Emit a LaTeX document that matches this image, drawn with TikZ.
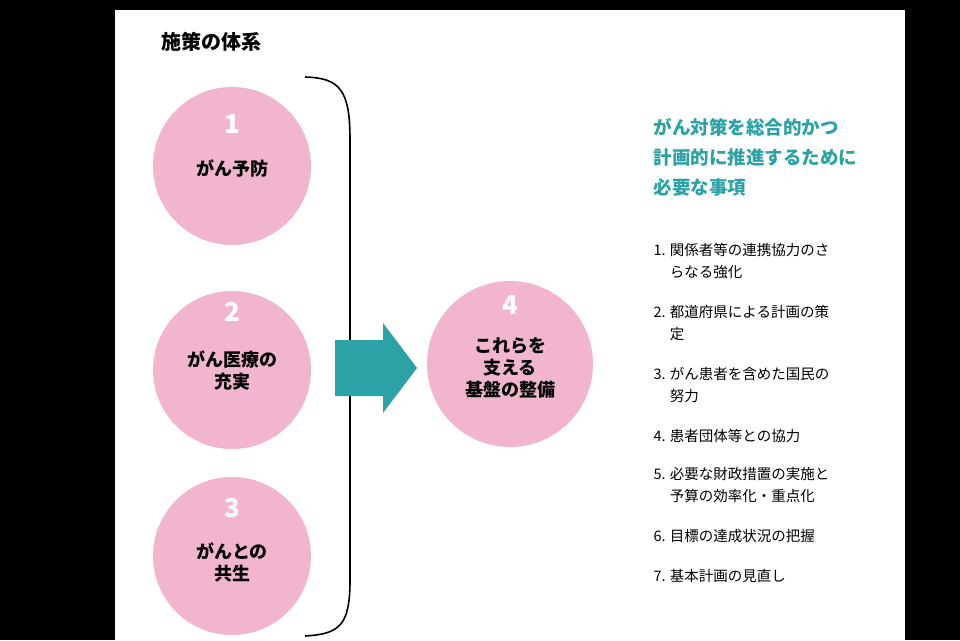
\documentclass[tikz,border=0pt]{standalone}
\usepackage{fontspec}
\setmainfont{Noto Sans CJK JP}
\definecolor{pinkc}{HTML}{F2B5CF}
\definecolor{tealc}{HTML}{2BA3A6}
\tikzset{circ/.style={circle,fill=pinkc,minimum size=158pt,inner sep=0pt},
 num/.style={text=white,font=\fontsize{26}{26}\selectfont\bfseries},
 ctext/.style={font=\fontsize{18}{22}\selectfont\bfseries,align=center},
 item/.style={anchor=north west,font=\fontsize{14.5}{22}\selectfont,align=left}}
\begin{document}
\begin{tikzpicture}[x=1pt,y=-1pt]
\fill[black] (0,0) rectangle (960,640);
\fill[white] (115,10) rectangle (905,640);
\useasboundingbox (0,0) rectangle (960,640);
\node[anchor=west,font=\fontsize{20}{20}\selectfont\bfseries] (title) at (158,42) {施策の体系};
\begin{scope}
\clip (115,10) rectangle (905,640);
\node[circ] (c1) at (232,166) {};
\node[circ] (c2) at (232,370) {};
\node[circ] (c3) at (232,556) {};
\end{scope}
\node[num] at (232,124) {1};
\node[ctext] at (232,168) {がん予防};
\node[num] at (232,312) {2};
\node[ctext] at (232,370) {がん医療の\\充実};
\node[num] at (232,508) {3};
\node[ctext] at (232,562) {がんとの\\共生};
\draw[line width=1.6pt] (305,77) .. controls (340,78) and (350,90) .. (350,140) -- (350,580) .. controls (350,625) and (340,634) .. (305,636);
\fill[tealc] (335,340) -- (383,340) -- (383,323) -- (417,368) -- (383,413) -- (383,396) -- (335,396) -- cycle;
\node[circ,minimum size=166pt] (c4) at (510,364) {};
\node[num] at (510,305) {4};
\node[ctext] at (510,368) {これらを\\支える\\基盤の整備};
\node[anchor=north west,text=tealc,font=\fontsize{18.5}{30}\selectfont\bfseries,align=left] (h) at (650,115) {がん対策を総合的かつ\\計画的に推進するために\\必要な事項};
\node[item] at (650,240) {1. 関係者等の連携協力のさ\\\phantom{1. }らなる強化};
\node[item] at (650,302) {2. 都道府県による計画の策\\\phantom{1. }定};
\node[item] at (650,364) {3. がん患者を含めた国民の\\\phantom{1. }努力};
\node[item] at (650,426) {4. 患者団体等との協力};
\node[item] at (650,464) {5. 必要な財政措置の実施と\\\phantom{1. }予算の効率化・重点化};
\node[item] at (650,526) {6. 目標の達成状況の把握};
\node[item] at (650,566) {7. 基本計画の見直し};
\end{tikzpicture}
\end{document}
